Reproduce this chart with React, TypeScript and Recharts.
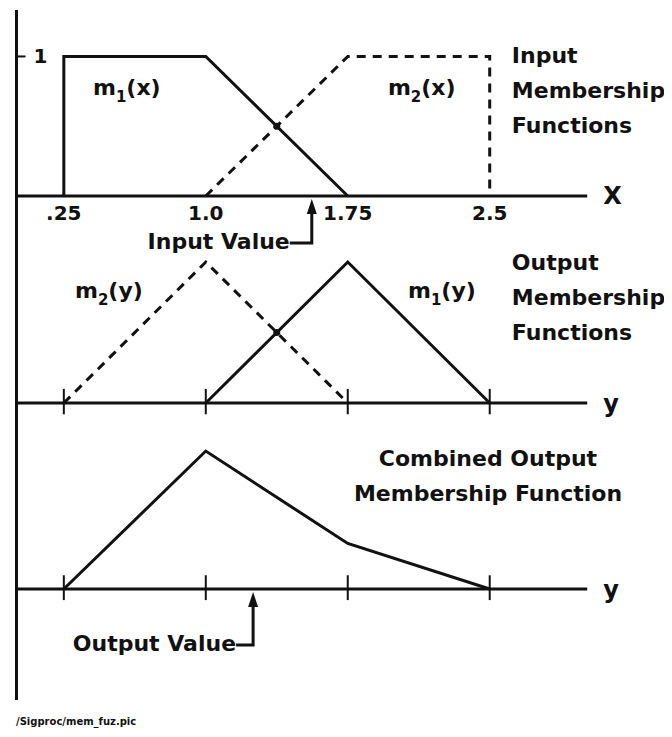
import { LineChart, Line, XAxis, YAxis, ReferenceLine, ReferenceDot } from 'recharts';

// input membership functions (top panel)
const inputM1 = [
  { x: 0.25, v: 0 },
  { x: 0.25, v: 1 },
  { x: 1.0, v: 1 },
  { x: 1.75, v: 0 },
];
const inputM2 = [
  { x: 1.0, v: 0 },
  { x: 1.75, v: 1 },
  { x: 2.5, v: 1 },
  { x: 2.5, v: 0 },
];

// output membership functions (middle panel)
const outputM2 = [
  { x: 0.25, v: 0 },
  { x: 1.0, v: 1 },
  { x: 1.75, v: 0 },
];
const outputM1 = [
  { x: 1.0, v: 0 },
  { x: 1.75, v: 1 },
  { x: 2.5, v: 0 },
];

// combined output membership function (bottom panel)
const combined = [
  { x: 0.25, v: 0 },
  { x: 1.0, v: 1 },
  { x: 1.75, v: 0.33 },
  { x: 2.5, v: 0 },
];

const tickValues = [0.25, 1.0, 1.75, 2.5];
const tickLabels = ['.25', '1.0', '1.75', '2.5'];
const crossing = { x: 1.375, v: 0.5 };
const inputValue = 1.56;
const outputValue = 1.25;

const INK = '#111';
const FONT = '"DejaVu Sans", sans-serif';

function TextShape(props: any) {
  const { cx, cy, lines, anchor = 'start', size = 22, gap = 35 } = props;
  return (
    <text x={cx} y={cy} textAnchor={anchor} fontFamily={FONT} fontWeight="bold" fontSize={size} fill={INK}>
      {lines.map((line: any, i: number) => (
        <tspan key={i} x={cx} dy={i === 0 ? 0 : gap}>
          {line}
        </tspan>
      ))}
    </text>
  );
}

// m with a subscript, e.g. m₁(x)
function MathLabel(props: any) {
  const { cx, cy, sub, arg } = props;
  return (
    <text x={cx} y={cy} fontFamily={FONT} fontWeight="bold" fontSize={22} fill={INK}>
      m
      <tspan fontSize={15} dy={7}>{sub}</tspan>
      <tspan dy={-7}>({arg})</tspan>
    </text>
  );
}

function ValueArrow(props: any) {
  const { cx, cy, label, drop, lead } = props;
  const bottom = cy + drop;
  return (
    <g>
      <polygon points={`${cx},${cy + 3} ${cx - 5},${cy + 18} ${cx + 5},${cy + 18}`} fill={INK} />
      <path d={`M${cx},${cy + 15} L${cx},${bottom} L${cx - lead},${bottom}`} stroke={INK} strokeWidth={3} fill="none" />
      <text x={cx - lead} y={bottom + 6} textAnchor="end" fontFamily={FONT} fontWeight="bold" fontSize={22} fill={INK}>
        {label}
      </text>
    </g>
  );
}

function TickLabel(props: any) {
  const { cx, cy, label } = props;
  return (
    <text x={cx} y={cy + 24} textAnchor="middle" fontFamily={FONT} fontWeight="bold" fontSize={20} fill={INK}>
      {label}
    </text>
  );
}

// the "1" mark on the vertical axis, tick pointing inward
function UnitTick(props: any) {
  const { cx, cy } = props;
  return (
    <g>
      <line x1={cx} y1={cy} x2={cx + 9} y2={cy} stroke={INK} strokeWidth={2} />
      <text x={cx + 24} y={cy + 7} textAnchor="middle" fontFamily={FONT} fontWeight="bold" fontSize={20} fill={INK}>
        1
      </text>
    </g>
  );
}

const axisLetter = (value: string) => ({
  value,
  position: 'right' as const,
  offset: 16,
  fill: INK,
  fontSize: 24,
  fontWeight: 'bold',
  fontFamily: FONT,
});

export default function App() {
  return (
    <div style={{ position: 'relative', width: 664, height: 729, background: '#fff' }}>
      <LineChart width={664} height={700} margin={{ top: 2, right: 84.8, bottom: 8, left: 8.5 }}>
        <XAxis type="number" dataKey="x" domain={[0, 3.015]} allowDataOverflow hide />
        <YAxis yAxisId="in" type="number" domain={[-3.613, 1.333]} allowDataOverflow hide />
        <YAxis yAxisId="out" type="number" domain={[-2.106, 2.787]} allowDataOverflow hide />
        <YAxis yAxisId="comb" type="number" domain={[-0.804, 4.196]} allowDataOverflow hide />

        {/* vertical membership axis running through all panels */}
        <ReferenceLine yAxisId="in" x={0} stroke={INK} strokeWidth={3} />
        <ReferenceDot yAxisId="in" x={0} y={1} r={0} shape={(p: any) => <UnitTick {...p} />} />

        {/* baselines */}
        <ReferenceLine yAxisId="in" y={0} stroke={INK} strokeWidth={3} label={axisLetter('X')} />
        <ReferenceLine yAxisId="out" y={0} stroke={INK} strokeWidth={3} label={axisLetter('y')} />
        <ReferenceLine yAxisId="comb" y={0} stroke={INK} strokeWidth={3} label={axisLetter('y')} />

        {/* tick marks across the output baselines */}
        {tickValues.map((t) => (
          <ReferenceLine
            key={`o-${t}`}
            yAxisId="out"
            segment={[{ x: t, y: -0.08 }, { x: t, y: 0.1 }]}
            stroke={INK}
            strokeWidth={2}
          />
        ))}
        {tickValues.map((t) => (
          <ReferenceLine
            key={`c-${t}`}
            yAxisId="comb"
            segment={[{ x: t, y: -0.08 }, { x: t, y: 0.1 }]}
            stroke={INK}
            strokeWidth={2}
          />
        ))}

        {/* tick labels for the input panel */}
        {tickValues.map((t, i) => (
          <ReferenceDot
            key={`l-${t}`}
            yAxisId="in"
            x={t}
            y={0}
            r={0}
            shape={(p: any) => <TickLabel {...p} label={tickLabels[i]} />}
          />
        ))}

        <Line yAxisId="in" data={inputM1} dataKey="v" type="linear" stroke={INK} strokeWidth={3} dot={false} isAnimationActive={false} />
        <Line yAxisId="in" data={inputM2} dataKey="v" type="linear" stroke={INK} strokeWidth={3} strokeDasharray="9 7" dot={false} isAnimationActive={false} />
        <Line yAxisId="out" data={outputM2} dataKey="v" type="linear" stroke={INK} strokeWidth={3} strokeDasharray="9 7" dot={false} isAnimationActive={false} />
        <Line yAxisId="out" data={outputM1} dataKey="v" type="linear" stroke={INK} strokeWidth={3} dot={false} isAnimationActive={false} />
        <Line yAxisId="comb" data={combined} dataKey="v" type="linear" stroke={INK} strokeWidth={3} dot={false} isAnimationActive={false} />

        <ReferenceDot yAxisId="in" x={crossing.x} y={crossing.v} r={3.5} fill={INK} stroke="none" />
        <ReferenceDot yAxisId="out" x={crossing.x} y={crossing.v} r={3.5} fill={INK} stroke="none" />

        {/* function labels */}
        <ReferenceDot yAxisId="in" x={0.404} y={0.724} r={0} shape={(p: any) => <MathLabel {...p} sub="1" arg="x" />} />
        <ReferenceDot yAxisId="in" x={1.962} y={0.724} r={0} shape={(p: any) => <MathLabel {...p} sub="2" arg="x" />} />
        <ReferenceDot yAxisId="out" x={0.309} y={0.745} r={0} shape={(p: any) => <MathLabel {...p} sub="2" arg="y" />} />
        <ReferenceDot yAxisId="out" x={2.068} y={0.745} r={0} shape={(p: any) => <MathLabel {...p} sub="1" arg="y" />} />

        {/* panel titles */}
        <ReferenceDot yAxisId="in" x={2.617} y={0.953} r={0} shape={(p: any) => <TextShape {...p} lines={['Input', 'Membership', 'Functions']} />} />
        <ReferenceDot yAxisId="out" x={2.617} y={0.943} r={0} shape={(p: any) => <TextShape {...p} lines={['Output', 'Membership', 'Functions']} />} />
        <ReferenceDot yAxisId="comb" x={2.491} y={0.891} r={0} shape={(p: any) => <TextShape {...p} anchor="middle" lines={['Combined Output', 'Membership Function']} />} />

        {/* input / output value arrows */}
        <ReferenceDot yAxisId="in" x={inputValue} y={0} r={0} shape={(p: any) => <ValueArrow {...p} label="Input Value" drop={47} lead={22} />} />
        <ReferenceDot yAxisId="comb" x={outputValue} y={0} r={0} shape={(p: any) => <ValueArrow {...p} label="Output Value" drop={56} lead={17} />} />
      </LineChart>
      <div
        style={{
          position: 'absolute',
          left: 8,
          top: 708,
          fontFamily: FONT,
          fontWeight: 'bold',
          fontSize: 10,
          color: INK,
        }}
      >
        /Sigproc/mem_fuz.pic
      </div>
    </div>
  );
}
